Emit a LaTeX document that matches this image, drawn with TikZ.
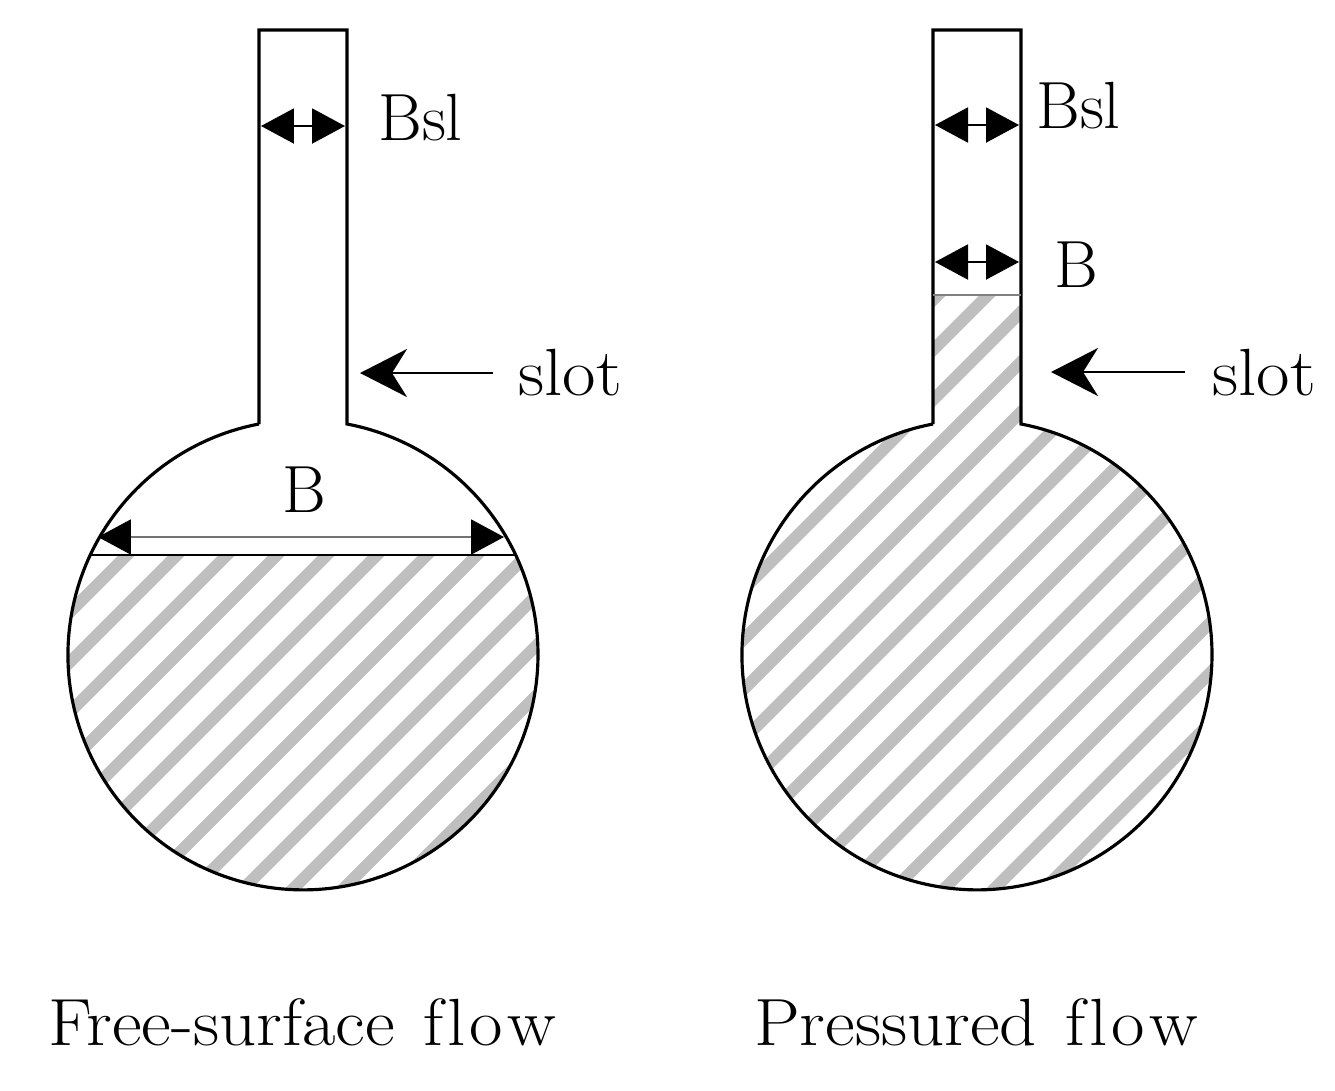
\documentclass[tikz,border=0pt]{standalone}
\usepackage{fontspec}
\usetikzlibrary{arrows.meta, positioning}
\newfontfamily\widefont[FakeStretch=1.09]{Latin Modern Roman}
\newcommand{\flowword}{f\kern0.06em l\kern0.06em o\kern0.06em w}
\tikzstyle{wall} = [black, line width=1.8pt]
\tikzstyle{level} = [black, line width=1.6pt]
\tikzstyle{hatch} = [black!25, line width=6.8pt]
\tikzstyle{dimline} = [line width=1.2pt, {Triangle[length=0.66cm, width=0.7cm, black]}-{Triangle[length=0.66cm, width=0.7cm, black]}]
\tikzstyle{pointer} = [line width=1.6pt, -{Stealth[length=0.94cm, width=0.96cm, inset=0.3cm]}]
\tikzstyle{lbl} = [font=\fontsize{38}{44}\selectfont, inner sep=0pt, anchor=base]
\tikzstyle{widelbl} = [font=\fontsize{38}{44}\selectfont\widefont, inner sep=0pt, anchor=base]
\begin{document}
\begin{tikzpicture}[x=0.02cm, y=-0.02cm]
	\useasboundingbox (0,0) rectangle (1335,1090);
	% Hatching
	\begin{scope}
		\clip (303,655) circle (235);
		\clip (0,555) rectangle (1335,1090);
		\foreach \c in {632,682,...,1432}
			\draw [hatch] (40,{\c-40}) -- (560,{\c-560});
	\end{scope}
	\begin{scope}
		\clip (933,295) -- (933,424) arc (259.2:-79.2:235) -- (1021,295) -- cycle;
		\foreach \c in {1133,1183,...,1933}
			\draw [hatch] (720,{\c-720}) -- (1240,{\c-1240});
	\end{scope}
	% Outlines
	\draw [wall] (259,424) -- (259,30) -- (347,30) -- (347,424) arc (-79.2:259.2:235);
	\draw [wall] (933,424) -- (933,30) -- (1021,30) -- (1021,424) arc (-79.2:259.2:235);
	\draw [level] (90,555) -- (516,555);
	\draw [black!50, line width=1pt] (933,295) -- (1021,295);
	% Coordinates
	\coordinate (leftslotL) at (261,126);
	\coordinate (leftslotR) at (345,126);
	\coordinate (leftwidthL) at (98,537);
	\coordinate (leftwidthR) at (504,537);
	\coordinate (rightslotL) at (935,125);
	\coordinate (rightslotR) at (1019,125);
	\coordinate (rightwidthL) at (935,262);
	\coordinate (rightwidthR) at (1019,262);
	\coordinate (leftslottip) at (360,373);
	\coordinate (leftslottail) at (493,373);
	\coordinate (rightslottip) at (1051,372);
	\coordinate (rightslottail) at (1185,372);
	% Labels
	\node (leftbsl) [lbl, anchor=base west] at (378,140) {Bsl};
	\node (rightbsl) [lbl, anchor=base west] at (1036,128) {Bsl};
	\node (rightb) [lbl] at (1076,287) {B};
	\node (leftb) [lbl] at (304,512) {B};
	\node (leftslot) [widelbl, anchor=base west] at (518,395) {slot};
	\node (rightslot) [widelbl, anchor=base west] at (1212,395) {slot};
	\node (freecap) [widelbl] at (302,1045) {Free-surface\hspace{0.1em} \flowword};
	\node (presscap) [widelbl] at (976,1045) {Pressured\hspace{0.1em} \flowword};
	% Arrows
	\draw [dimline] (leftslotL) -- (leftslotR);
	\draw [dimline, black!55] (leftwidthL) -- (leftwidthR);
	\draw [dimline] (rightslotL) -- (rightslotR);
	\draw [dimline] (rightwidthL) -- (rightwidthR);
	\draw [pointer] (leftslottail) -- (leftslottip);
	\draw [pointer] (rightslottail) -- (rightslottip);
\end{tikzpicture}
\end{document}
